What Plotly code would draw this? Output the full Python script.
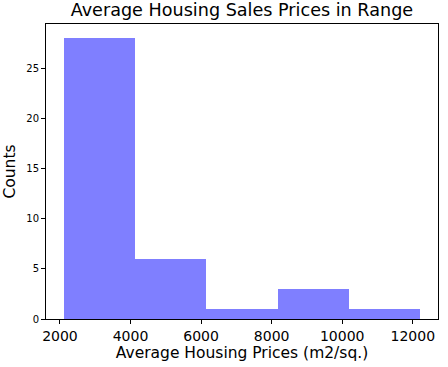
import plotly.graph_objects as go

bin_edges = [2110, 4130, 6150, 8170, 10190, 12210]
counts = [28, 6, 1, 3, 1]

centers = [(bin_edges[i] + bin_edges[i + 1]) / 2 for i in range(len(counts))]
widths = [bin_edges[i + 1] - bin_edges[i] for i in range(len(counts))]

fig = go.Figure(go.Bar(
    x=centers, y=counts, width=widths,
    marker=dict(color="rgba(0,0,255,0.5)", line=dict(width=0)),
))

font_family = "DejaVu Sans"
fig.update_layout(
    width=448, height=367,
    margin=dict(l=45, r=9, t=24, b=47),
    paper_bgcolor="white", plot_bgcolor="white",
    font=dict(family=font_family, color="black"),
    title=dict(text="Average Housing Sales Prices in Range", x=0.54, xanchor="center",
               y=0.99, yanchor="top", font=dict(size=17.6, family=font_family, color="black")),
    showlegend=False,
    bargap=0,
)
fig.update_xaxes(
    range=[1605, 12715],
    tickvals=[2000, 4000, 6000, 8000, 10000, 12000],
    ticktext=["2000", "4000", "6000", "8000", "10000", "12000"],
    ticks="outside", ticklen=4, tickwidth=1, tickcolor="black",
    tickfont=dict(size=14, family=font_family, color="black"),
    showline=True, linecolor="black", linewidth=1, mirror=True,
    showgrid=False, zeroline=False,
    title=dict(text="Average Housing Prices (m2/sq.)", font=dict(size=15.5, family=font_family, color="black"), standoff=3),
)
fig.update_yaxes(
    range=[0, 29.4],
    tickvals=[0, 5, 10, 15, 20, 25],
    ticks="outside", ticklen=4, tickwidth=1, tickcolor="black",
    tickfont=dict(size=10, family=font_family, color="black"),
    showline=True, linecolor="black", linewidth=1, mirror=True,
    showgrid=False, zeroline=False,
    title=dict(text="Counts", font=dict(size=15.5, family=font_family, color="black"), standoff=6),
)

fig.write_html("out.html", config={"displayModeBar": False},
               post_script="document.body.style.margin='0';document.body.style.overflow='hidden';")
